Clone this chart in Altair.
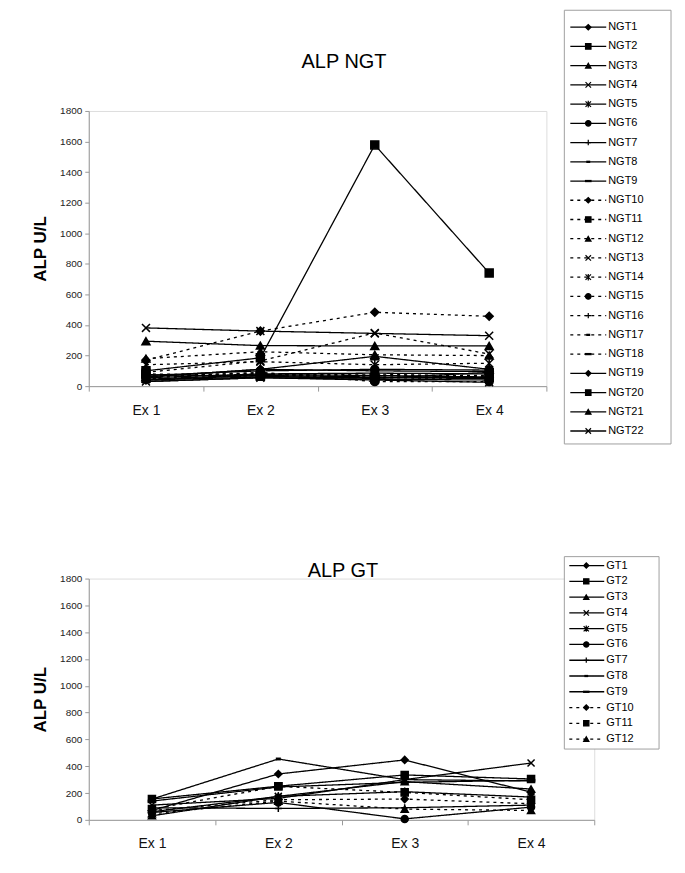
import altair as alt
import pandas as pd

FONT = "Liberation Sans"

exams = ["Ex 1", "Ex 2", "Ex 3", "Ex 4"]

ngt_names = [f"NGT{i}" for i in range(1, 23)]
ngt_values = [
    [60, 110, 100, 95],     # NGT1
    [100, 185, 1578, 740],  # NGT2
    [294, 265, 263, 263],   # NGT3
    [381, 360, 345, 330],   # NGT4
    [45, 75, 70, 60],       # NGT5
    [70, 100, 110, 105],    # NGT6
    [55, 80, 85, 80],       # NGT7
    [40, 60, 55, 50],       # NGT8
    [30, 55, 45, 40],       # NGT9
    [170, 360, 483, 457],   # NGT10
    [80, 70, 60, 60],       # NGT11
    [180, 225, 205, 200],   # NGT12
    [90, 165, 348, 210],    # NGT13
    [140, 160, 140, 150],   # NGT14
    [60, 90, 30, 30],       # NGT15
    [70, 85, 55, 50],       # NGT16
    [50, 70, 80, 60],       # NGT17
    [65, 75, 70, 70],       # NGT18
    [40, 70, 60, 55],       # NGT19
    [75, 65, 50, 90],       # NGT20
    [60, 110, 195, 110],    # NGT21
    [30, 55, 40, 25],       # NGT22
]

gt_names = [f"GT{i}" for i in range(1, 13)]
gt_values = [
    [70, 342, 447, 206],    # GT1
    [156, 251, 335, 305],   # GT2
    [30, 175, 285, 230],    # GT3
    [110, 160, 300, 424],   # GT4
    [60, 175, 210, 170],    # GT5
    [55, 130, 7, 95],       # GT6
    [90, 85, 90, 110],      # GT7
    [155, 454, 300, 290],   # GT8
    [140, 245, 280, 295],   # GT9
    [70, 150, 155, 120],    # GT10
    [80, 250, 205, 150],    # GT11
    [45, 140, 80, 70],      # GT12
]

SHAPES = [
    "diamond",
    "square",
    "triangle-up",
    "M-1,-1L1,1M-1,1L1,-1",
    "M-1,-1L1,1M-1,1L1,-1M0,-1.2L0,1.2",
    "circle",
    "M0,-1L0,1M-1,0L1,0",
    "M-0.5,-0.2H0.5V0.2H-0.5Z",
    "M-1,-0.2H1V0.2H-1Z",
]


def style_lists(names):
    shapes, dashes, widths = [], [], []
    for i, _ in enumerate(names):
        shapes.append(SHAPES[i % 9])
        if i < 9:
            dashes.append([1, 0])
            widths.append(1.3)
        elif i < 18:
            dashes.append([3, 4])
            widths.append(1.6)
        else:
            dashes.append([1, 0])
            widths.append(2.8)
    return shapes, dashes, widths


def make_chart(names, values, title, width, height, title_pos,
               leg_box, leg_rows, leg_x, msize, leg_msize):
    rows = []
    for n, vals in zip(names, values):
        for e, v in zip(exams, vals):
            rows.append({"series": n, "exam": e, "value": v})
    df = pd.DataFrame(rows)
    shapes, dashes, widths = style_lists(names)
    shape_scale = alt.Scale(domain=names, range=shapes)
    dash_scale = alt.Scale(domain=names, range=dashes)
    width_scale = alt.Scale(domain=names, range=widths)

    x = alt.X(
        "exam:N", sort=exams, bandPosition=0.5,
        scale=alt.Scale(type="band", paddingInner=0, paddingOuter=0),
        axis=alt.Axis(title=None, tickBand="extent", labelAngle=0,
                      labelFontSize=14, labelFont=FONT, labelColor="#111",
                      domainColor="#9a9a9a", tickColor="#9a9a9a",
                      tickSize=5, labelPadding=12, grid=False),
    )
    y = alt.Y(
        "value:Q", scale=alt.Scale(domain=[0, 1800], nice=False),
        axis=alt.Axis(values=list(range(0, 1801, 200)), format="d", title="ALP U/L",
                      titleFont=FONT, titleFontSize=17, titleFontWeight="bold",
                      titleColor="#000", titlePadding=10,
                      labelFont=FONT, labelFontSize=10, labelColor="#222",
                      domainColor="#9a9a9a", tickColor="#9a9a9a",
                      tickSize=4, labelPadding=3, grid=False),
    )
    lines = alt.Chart(df).mark_line(color="black").encode(
        x=x, y=y, detail="series:N",
        strokeDash=alt.StrokeDash("series:N", scale=dash_scale, legend=None),
        strokeWidth=alt.StrokeWidth("series:N", scale=width_scale, legend=None),
    )
    points = alt.Chart(df).mark_point(
        fill="black", stroke="black", strokeWidth=1.5, opacity=1, size=msize
    ).encode(
        x=x, y=y,
        shape=alt.Shape("series:N", scale=shape_scale, legend=None),
    )
    data_layer = alt.layer(lines, points)

    leg_df = pd.DataFrame({"series": names})
    bx0, bx1, by0, by1 = leg_box
    ry0, ry1 = leg_rows
    lx0, lx1, mx, tx = leg_x
    one = pd.DataFrame({"title": [title]})
    box = alt.Chart(one).mark_rect(
        fill="white", stroke="#a0a0a0", strokeWidth=1
    ).encode(x=alt.value(bx0), x2=alt.value(bx1), y=alt.value(by0), y2=alt.value(by1))
    title_mark = alt.Chart(one).mark_text(
        align="center", baseline="middle", font=FONT, fontSize=20, color="#000"
    ).encode(x=alt.value(title_pos[0]), y=alt.value(title_pos[1]), text="title:N")

    leg_y = alt.Y("series:N", sort=names,
                  scale=alt.Scale(type="point", domain=names, range=[ry0, ry1], padding=0),
                  axis=None)

    leg_rule = alt.Chart(leg_df).mark_rule(color="black").encode(
        x=alt.value(lx0), x2=alt.value(lx1), y=leg_y,
        strokeDash=alt.StrokeDash("series:N", scale=dash_scale, legend=None),
        strokeWidth=alt.StrokeWidth("series:N", scale=width_scale, legend=None),
    )
    leg_pts = alt.Chart(leg_df).mark_point(
        fill="black", stroke="black", strokeWidth=1.2, opacity=1, size=leg_msize
    ).encode(
        x=alt.value(mx), y=leg_y,
        shape=alt.Shape("series:N", scale=shape_scale, legend=None),
    )
    leg_txt = alt.Chart(leg_df).mark_text(
        align="left", baseline="middle", font=FONT, fontSize=11, color="#000"
    ).encode(x=alt.value(tx), y=leg_y, text="series:N")
    legend_layer = alt.layer(box, leg_rule, leg_pts, leg_txt, title_mark)

    return alt.layer(data_layer, legend_layer).resolve_scale(
        y="independent"
    ).properties(width=width, height=height)


top = make_chart(
    ngt_names, ngt_values, "ALP NGT", 459, 276, (256, -49),
    leg_box=(477, 584, -101, 334), leg_rows=(-84, 321),
    leg_x=(483, 519, 501, 521), msize=64, leg_msize=30,
)
bottom = make_chart(
    gt_names, gt_values, "ALP GT", 507, 242, (255, -8),
    leg_box=(477, 572, -22, 171), leg_rows=(-13, 161),
    leg_x=(482, 517, 499, 519), msize=50, leg_msize=28,
)

chart = alt.vconcat(top, bottom, spacing=111).properties(
    padding={"left": 23, "top": 0, "right": 5, "bottom": 5}
).configure_view(stroke=None).configure(background="white")

chart.save("out.html", embed_options={"renderer": "svg", "actions": False})
